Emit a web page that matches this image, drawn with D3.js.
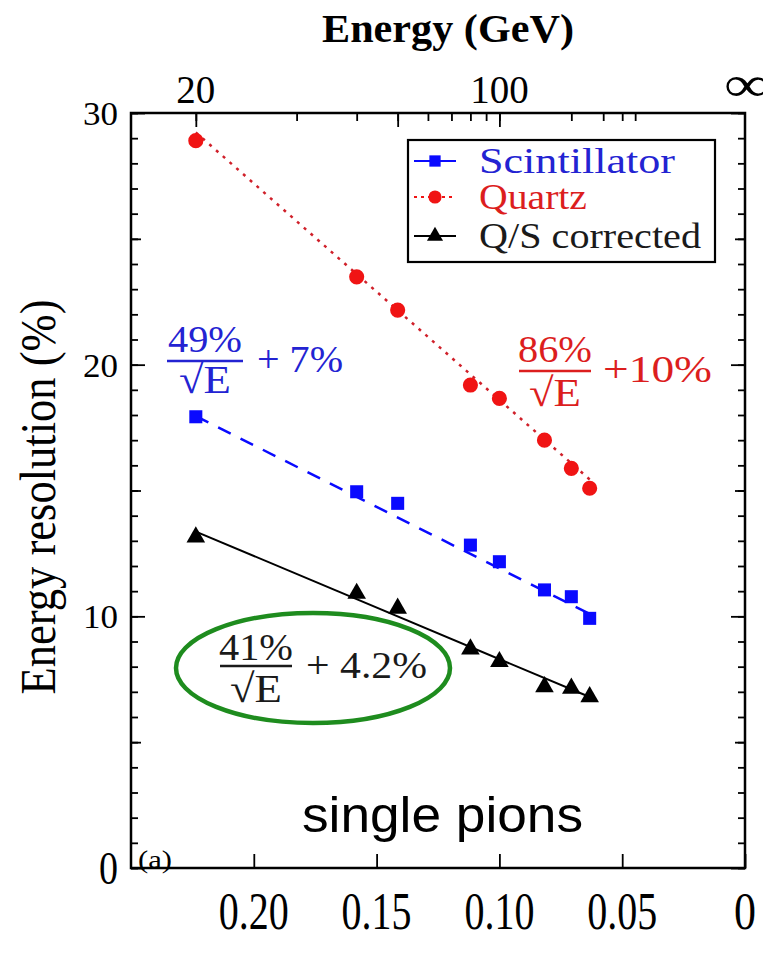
<!DOCTYPE html>
<html><head><meta charset="utf-8">
<script src="https://cdn.jsdelivr.net/npm/d3@7"></script>
<style>html,body{margin:0;padding:0;background:#fff}svg{display:block}</style>
</head><body>
<script>
// ---------- data ----------
const energies = [20, 40, 50, 80, 100, 150, 200, 250];          // GeV
const scintillator = [17.93, 14.95, 14.49, 12.83, 12.17, 11.05, 10.78, 9.92];
const quartz       = [28.9, 23.49, 22.17, 19.19, 18.66, 17.0, 15.88, 15.09];
const corrected    = [13.15, 10.91, 10.32, 8.70, 8.20, 7.20, 7.14, 6.80];
const seriesNames  = ["Scintillator", "Quartz", "Q/S corrected"];
const fitStochastic = [49, 86, 41];   // % / sqrt(E)
const fitConstant   = [7, 10, 4.2];   // %
const fitLabelsNum  = ["49%", "86%", "41%"];
const fitLabelsConst = ["+ 7%", "+10%", "+ 4.2%"];
const bottomTicks = [0.20, 0.15, 0.10, 0.05, 0];
const bottomTickLabels = ["0.20", "0.15", "0.10", "0.05", "0"];
const topTickEnergies = [20, 30, 40, 50, 60, 70, 80, 90, 100, 200, 300, 400, 500];
const topMajorEnergies = [20, 50, 100];
const topLabelEnergies = [20, 100, Infinity];
const topLabels = ["20", "100", "\u221E"];
const yTickLabels = [0, 10, 20, 30];

// ---------- setup ----------
const W = 763, H = 978;
const svg = d3.select("body").append("svg").attr("width", W).attr("height", H);
const x = d3.scaleLinear().domain([0.25, 0]).range([131, 745]);
const y = d3.scaleLinear().domain([0, 30]).range([868, 113]);
const invSqrt = e => 1 / Math.sqrt(e);
const SERIF = "'Liberation Serif','Times New Roman',serif";
const SANS = "'Liberation Sans',Arial,sans-serif";

function txt(px, py, s, o) {
  const t = svg.append("text").text(s)
    .attr("font-family", o.family || SERIF)
    .attr("font-size", o.size)
    .attr("fill", o.fill || "#000")
    .attr("text-anchor", o.anchor || "start");
  if (o.weight) t.attr("font-weight", o.weight);
  if (o.len) t.attr("textLength", o.len).attr("lengthAdjust", "spacingAndGlyphs");
  if (o.transform) t.attr("transform", o.transform);
  else if (o.sy) t.attr("transform", `translate(${px},${py}) scale(1,${o.sy})`);
  else t.attr("x", px).attr("y", py);
  return t;
}

// ---------- axes ticks ----------
function styleAxis(g) {
  g.select(".domain").remove();
  g.selectAll(".tick line").attr("stroke", "#000").attr("stroke-width", 1.8);
  g.selectAll(".tick text").remove();
}
const yMinor = d3.range(0, 31, 1), y5 = d3.range(5, 30, 10), y10 = [0, 10, 20, 30];
[[yMinor, 7], [y5, 10], [y10, 14]].forEach(([vals, len]) => {
  svg.append("g").attr("transform", `translate(${x(0.25)},0)`)
    .call(d3.axisLeft(y).tickValues(vals).tickSize(-len)).call(styleAxis);
  svg.append("g").attr("transform", `translate(${x(0)},0)`)
    .call(d3.axisRight(y).tickValues(vals).tickSize(-len)).call(styleAxis);
});
svg.append("g").attr("transform", `translate(0,${y(0)})`)
  .call(d3.axisBottom(x).tickValues(bottomTicks).tickSize(-14)).call(styleAxis);
svg.append("g").attr("transform", `translate(0,${y(30)})`)
  .call(d3.axisTop(x).tickValues(topTickEnergies.map(invSqrt)).tickSize(-8)).call(styleAxis);
svg.append("g").attr("transform", `translate(0,${y(30)})`)
  .call(d3.axisTop(x).tickValues(topMajorEnergies.map(invSqrt)).tickSize(-14)).call(styleAxis);

// frame
svg.append("rect").attr("x", x(0.25)).attr("y", y(30))
  .attr("width", x(0) - x(0.25)).attr("height", y(0) - y(30))
  .attr("fill", "none").attr("stroke", "#000").attr("stroke-width", 2.5);

// tick labels
bottomTicks.forEach((v, i) => {
  const s = bottomTickLabels[i];
  txt(x(v), 929, s, {size: 44, anchor: "middle", len: s.length === 1 ? 22 : 70, sy: 1.18});
});
yTickLabels.forEach(v => {
  if (v === 0) txt(118, y(v) + 16, "0", {size: 42, anchor: "end", len: 19, sy: 1.1});
  else txt(118, y(v) + 12, String(v), {size: 33, anchor: "end", len: 35});
});
topLabelEnergies.forEach((e, i) => {
  const s = topLabels[i];
  if (e === Infinity) txt(x(invSqrt(e)) + 2, 101, s, {size: 50, anchor: "middle", len: 46});
  else txt(x(invSqrt(e)), 103, s, {size: 37, anchor: "middle", len: s.length * 19.5, sy: 1.1});
});

// titles
txt(448, 42, "Energy (GeV)", {size: 40, weight: "bold", anchor: "middle", len: 252});
txt(0, 0, "Energy resolution (%)", {size: 50, anchor: "middle", len: 395,
  transform: "translate(55,497) rotate(-90)"});

// ---------- series ----------
const colors = ["#0a0aff", "#f01414", "#000000"];
const textColors = ["#2323d2", "#dc1e1e", "#1a1a1a"];
const dashes = ["14,11", "3,6", null];
const allSeries = [scintillator, quartz, corrected];
const xmin = invSqrt(energies[energies.length - 1]), xmax = invSqrt(energies[0]);

allSeries.forEach((vals, k) => {
  const line = d3.line().x(d => x(d)).y(d => y(fitStochastic[k] * d + fitConstant[k]));
  svg.append("path").datum([xmax, xmin]).attr("d", line)
    .attr("fill", "none").attr("stroke", k === 1 ? "#d0202a" : colors[k])
    .attr("stroke-width", k === 2 ? 2 : 2.5)
    .attr("stroke-dasharray", dashes[k]);
});

const sym = [d3.symbolSquare, d3.symbolCircle, d3.symbolTriangle];
const symSize = [170, 180, 150];
allSeries.forEach((vals, k) => {
  svg.append("g").selectAll("path").data(vals).join("path")
    .attr("transform", (d, i) => `translate(${x(invSqrt(energies[i]))},${y(d)})`)
    .attr("d", d3.symbol().type(sym[k]).size(symSize[k]))
    .attr("fill", colors[k]);
});

// ---------- legend ----------
svg.append("rect").attr("x", 408).attr("y", 140).attr("width", 307).attr("height", 122)
  .attr("fill", "#fff").attr("stroke", "#000").attr("stroke-width", 2.2);
const legY = [161, 197, 236];
const legLen = [196, 108, 222];
seriesNames.forEach((name, k) => {
  svg.append("line").attr("x1", 414).attr("x2", 456).attr("y1", legY[k]).attr("y2", legY[k])
    .attr("stroke", colors[k]).attr("stroke-width", k === 2 ? 2 : 1.8)
    .attr("stroke-dasharray", k === 1 ? "3,4" : null);
  svg.append("path").attr("transform", `translate(435,${legY[k]})`)
    .attr("d", d3.symbol().type(sym[k]).size(symSize[k] * 0.75)).attr("fill", colors[k]);
  txt(479, legY[k] + 12, name, {size: 35, fill: textColors[k], len: legLen[k]});
});

// ---------- fit annotations ----------
const ann = [
  {nx: 205, ny: 352, bx1: 167, bx2: 243, by: 361, dy: 393, cx: 257, cy: 372, cl: 86},
  {nx: 555, ny: 362, bx1: 519, bx2: 591, by: 371, dy: 406, cx: 603, cy: 382, cl: 109},
  {nx: 256, ny: 660, bx1: 220, bx2: 292, by: 666, dy: 702, cx: 306, cy: 678, cl: 121}
];
ann.forEach((a, k) => {
  txt(a.nx, a.ny, fitLabelsNum[k], {size: 38, anchor: "middle", fill: textColors[k], len: 74});
  svg.append("line").attr("x1", a.bx1).attr("x2", a.bx2).attr("y1", a.by).attr("y2", a.by)
    .attr("stroke", textColors[k]).attr("stroke-width", 2.5);
  txt(a.nx, a.dy, "\u221AE", {size: 40, anchor: "middle", fill: textColors[k], len: 52});
  txt(a.cx, a.cy, fitLabelsConst[k], {size: 38, fill: textColors[k], len: a.cl});
});

// green ellipse
svg.append("ellipse").attr("cx", 313).attr("cy", 668).attr("rx", 137).attr("ry", 55)
  .attr("fill", "none").attr("stroke", "#1e8c1e").attr("stroke-width", 4.5);

// other labels
txt(302, 832, "single pions", {family: SANS, size: 50, len: 281});
txt(138, 868, "(a)", {size: 26, len: 34});
</script>
</body></html>
